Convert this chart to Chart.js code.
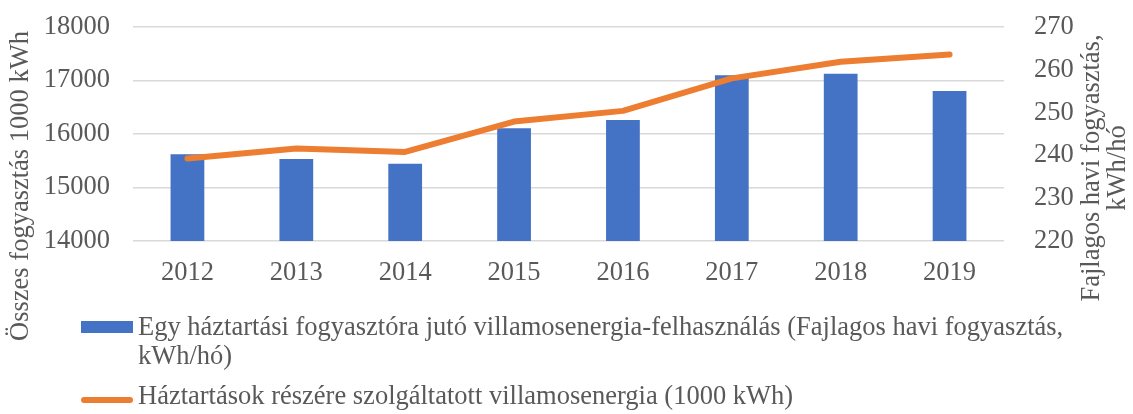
<!DOCTYPE html>
<html>
<head>
<meta charset="utf-8">
<script src="https://cdn.jsdelivr.net/npm/chart.js@4.4.1/dist/chart.umd.min.js"></script>
<style>
  body { margin: 0; background: #fff; }
  #wrap { position: relative; width: 1133px; height: 414px; }
  .legend-item { position: absolute; left: 81px; font: 26.5px "Liberation Serif", "Times New Roman", serif; color: #595959; }
  .legend-item .txt { position: absolute; left: 57px; white-space: nowrap; line-height: 29px; }
  .swatch { position: absolute; left: 0; }
</style>
</head>
<body>
<div id="wrap">
  <canvas id="chart" width="1133" height="414"></canvas>
  <div class="legend-item" style="top:321px">
    <div class="swatch" style="top:0;width:52px;height:12px;background:#4472C4"></div>
    <div class="txt" style="top:-9px">Egy háztartási fogyasztóra jutó villamosenergia-felhasználás (Fajlagos havi fogyasztás,<br>kWh/hó)</div>
  </div>
  <div class="legend-item" style="top:397px">
    <div class="swatch" style="top:0;width:52px;height:6px;border-radius:3px;background:#ED7D31"></div>
    <div class="txt" style="top:-16px">Háztartások részére szolgáltatott villamosenergia (1000 kWh)</div>
  </div>
</div>
<script>
const years = ['2012', '2013', '2014', '2015', '2016', '2017', '2018', '2019'];
const consumptionPerHousehold = [15621, 15533, 15445, 16106, 16262, 17097, 17127, 16804];
const suppliedEnergy = [239.3, 241.6, 240.8, 247.9, 250.4, 258.0, 261.9, 263.6];
const leftTitle = 'Összes fogyasztás 1000 kWh';
const rightTitle = ['Fajlagos havi fogyasztás,', 'kWh/hó'];

const textColor = '#595959';
const gridColor = '#D9D9D9';
const serif = '"Liberation Serif", "Times New Roman", serif';
const fontSize = 26.5;

const axisTitles = {
  id: 'axisTitles',
  afterDraw(chart) {
    const { ctx } = chart;
    ctx.save();
    ctx.fillStyle = textColor;
    ctx.font = `${fontSize}px ${serif}`;
    ctx.textAlign = 'center';
    ctx.textBaseline = 'middle';
    ctx.translate(21, 186);
    ctx.rotate(-Math.PI / 2);
    ctx.fillText(leftTitle, 0, 0);
    ctx.restore();

    ctx.save();
    ctx.fillStyle = textColor;
    ctx.font = `${fontSize}px ${serif}`;
    ctx.textAlign = 'center';
    ctx.textBaseline = 'middle';
    ctx.translate(1092, 168);
    ctx.rotate(-Math.PI / 2);
    rightTitle.forEach((line, i) => ctx.fillText(line, 0, i * 26));
    ctx.restore();
  }
};

// fix the side axes so the plot area sits where the original has it
function fitSide(width) {
  return (scale) => {
    scale.width = width;
    scale.paddingTop = 0;
    scale.paddingBottom = 0;
  };
}

new Chart(document.getElementById('chart'), {
  data: {
    labels: years,
    datasets: [
      {
        type: 'line',
        label: 'Háztartások részére szolgáltatott villamosenergia (1000 kWh)',
        data: suppliedEnergy,
        yAxisID: 'y1',
        borderColor: '#ED7D31',
        backgroundColor: '#ED7D31',
        borderWidth: 6,
        borderCapStyle: 'round',
        borderJoinStyle: 'round',
        pointRadius: 0,
        tension: 0,
        clip: false,
        order: 0
      },
      {
        type: 'bar',
        label: 'Egy háztartási fogyasztóra jutó villamosenergia-felhasználás (Fajlagos havi fogyasztás, kWh/hó)',
        data: consumptionPerHousehold,
        yAxisID: 'y',
        backgroundColor: '#4472C4',
        categoryPercentage: 1,
        barPercentage: 0.31,
        order: 1
      }
    ]
  },
  options: {
    responsive: false,
    animation: false,
    layout: { padding: { top: 27, left: 0, right: 0, bottom: 0 } },
    plugins: {
      legend: { display: false },
      tooltip: { enabled: false }
    },
    scales: {
      x: {
        grid: { display: false, drawTicks: false },
        border: { display: false },
        ticks: { color: textColor, font: { family: serif, size: fontSize }, padding: 16 },
        afterFit: (scale) => {
          scale.height = 173;
          scale.paddingLeft = 0;
          scale.paddingRight = 0;
        }
      },
      y: {
        position: 'left',
        min: 14000,
        max: 18000,
        grid: { color: gridColor, lineWidth: 1.5, drawTicks: false },
        border: { display: false },
        ticks: {
          stepSize: 1000,
          color: textColor,
          font: { family: serif, size: fontSize },
          padding: 23,
          callback: (value) => String(value)
        },
        afterFit: fitSide(133)
      },
      y1: {
        position: 'right',
        min: 220,
        max: 270,
        grid: { display: false, drawTicks: false },
        border: { display: false },
        ticks: {
          stepSize: 10,
          color: textColor,
          font: { family: serif, size: fontSize },
          padding: 30,
          callback: (value) => String(value)
        },
        afterFit: fitSide(129)
      }
    }
  },
  plugins: [axisTitles]
});
</script>
</body>
</html>
